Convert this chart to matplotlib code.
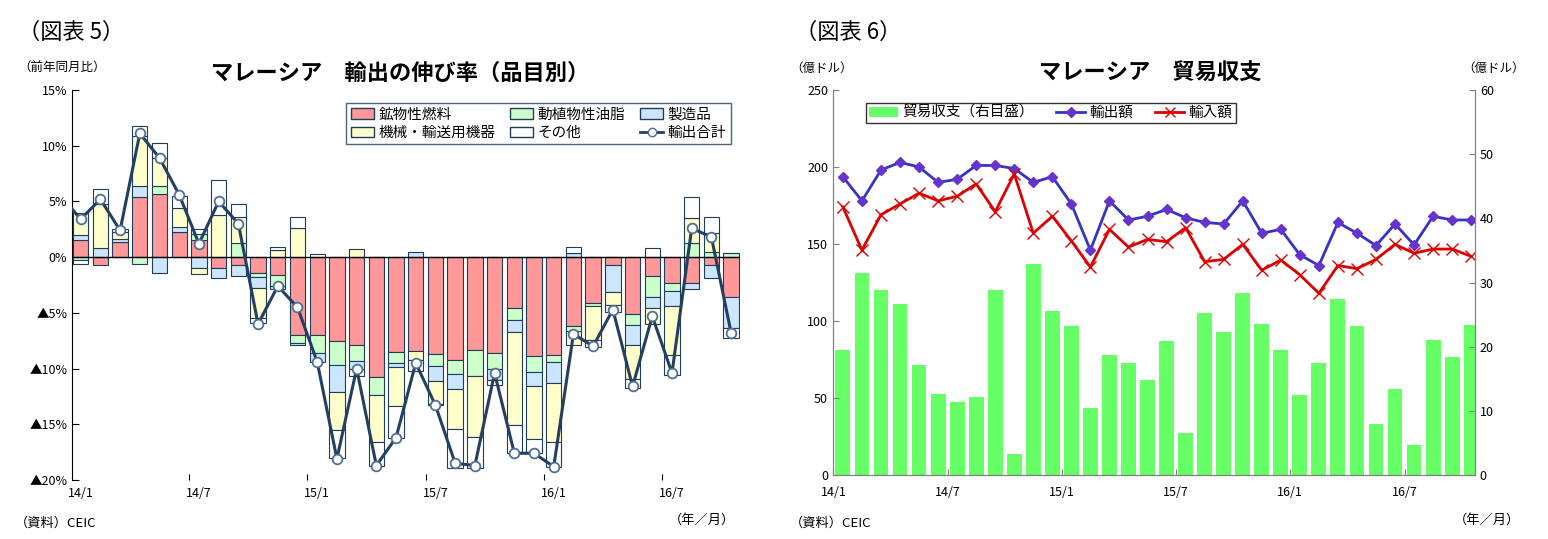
import numpy as np
import matplotlib.pyplot as plt
from matplotlib.patches import Patch
from matplotlib.lines import Line2D

plt.rcParams['font.family'] = 'Noto Sans CJK JP'

months = ["14/1", "14/7", "15/1", "15/7", "16/1", "16/7"]
n = 34

# 図表5: 品目別寄与度 (%pt)
fuel = [1.5, -0.7, 1.4, 5.4, 5.7, 2.3, 1.5, -1.0, -0.7, -1.4, -1.6, -7.0, -7.0, -7.5, -7.9, -10.8, -8.5,
        -8.4, -8.7, -9.2, -8.3, -8.6, -4.6, -8.9, -8.8, -6.2, -4.1, -0.7, -5.1, -1.7, -2.3, -2.3, -0.7, -3.6]
oil = [-0.3, 0.0, 0.0, -0.6, 0.7, 0.0, 0.6, 0.0, 1.3, -0.4, -1.0, -0.7, -1.6, -2.2, -1.4, -1.6, -1.0,
       0.0, -1.1, -1.3, -2.4, -1.4, -1.0, -1.4, -0.6, -0.4, -0.3, 0.0, -1.0, -1.9, -0.7, 1.3, 0.5, 0.4]
manuf = [0.5, 0.8, 0.2, 1.0, -1.4, 0.4, -1.0, -0.9, -1.0, -1.0, -0.3, -0.2, -0.8, -2.4, -0.7, 0.0, -0.4,
         0.5, -1.3, -1.3, 0.0, -1.0, -1.1, -1.3, -1.9, 0.4, 0.0, -2.4, -1.8, -1.0, -1.4, -0.6, -1.2, -2.8]
machine = [2.0, 4.0, 0.7, 4.5, 2.5, 1.7, -0.5, 3.8, 2.3, -2.7, 0.6, 2.6, 0.0, -3.4, 0.7, -4.2, -3.5,
           -0.8, -2.1, -3.6, -5.4, 0.0, -8.4, -4.7, -5.3, -1.3, -3.0, -1.2, -3.0, -1.4, -4.4, 2.2, 1.7, 0.0]
other = [-0.3, 1.3, 0.2, 0.9, 1.3, 1.1, 0.4, 3.1, 1.2, -0.4, 0.3, 1.0, 0.3, -2.5, -0.7, -2.1, -2.8,
         -1.0, -0.1, -3.5, -2.8, -0.5, -2.5, -1.3, -2.2, 0.5, -0.7, -0.6, -0.8, 0.8, -1.8, 1.9, 1.4, -0.85]
total = [3.4, 5.2, 2.4, 11.1, 8.9, 5.6, 1.2, 5.0, 3.0, -6.0, -2.6, -4.5, -9.4, -18.1, -10.0, -18.7, -16.2,
         -9.5, -13.3, -18.5, -18.7, -10.4, -17.6, -17.6, -18.8, -6.9, -8.0, -4.7, -11.6, -5.3, -10.4, 2.6, 1.8, -6.8]
total_prev = 5.5  # 13/12

# 図表6: 貿易 (億ドル)
balance = [19.5, 31.5, 28.8, 26.7, 17.2, 12.6, 11.3, 12.1, 28.9, 3.2, 32.9, 25.6, 23.2, 10.5, 18.7, 17.4, 14.8,
           20.9, 6.5, 25.2, 22.3, 28.4, 23.5, 19.5, 12.4, 17.5, 27.5, 23.2, 8.0, 13.4, 4.7, 21.0, 18.4, 23.4]
exports = [193.7, 178, 198, 203, 200, 190, 192, 201, 201, 199, 190, 193.7, 176, 146, 178, 165.6, 168,
           172.5, 167, 164, 163, 178, 157, 159.5, 143, 136, 164, 157, 149, 163, 149.4, 168, 165.6, 165.6]
imports = [174, 146, 169, 176, 183, 178, 181, 189, 171, 195.5, 157, 168, 152, 135, 159.5, 148, 153,
           151.5, 160.6, 138.5, 140, 149.8, 133, 139.6, 130, 118, 136, 134, 140, 149.8, 144, 146.7, 146.7, 142]

x = np.arange(n)
fig = plt.figure(figsize=(15.48, 5.39), dpi=100)

# ---------- 図表5 ----------
ax = fig.add_axes([72 / 1548, 1 - 480 / 539, 668 / 1548, 390 / 539])
comps = [(fuel, '#FF9999', '鉱物性燃料'), (oil, '#CCFFCC', '動植物性油脂'),
         (manuf, '#CCE6FF', '製造品'), (machine, '#FFFFCC', '機械・輸送用機器'),
         (other, '#FFFFFF', 'その他')]
pos = np.zeros(n)
neg = np.zeros(n)
for vals, col, lab in comps:
    v = np.array(vals)
    base = np.where(v >= 0, pos, neg)
    ax.bar(x, v, bottom=base, width=0.78, color=col, edgecolor='#1F3D5A', linewidth=0.8, zorder=2)
    pos += np.where(v >= 0, v, 0)
    neg += np.where(v < 0, v, 0)
ax.plot(np.r_[-1, x], np.r_[total_prev, total], color='#243F60', lw=2.2, marker='o', ms=7,
        mfc='white', mec='#4F6F95', mew=1.3, zorder=4)
ax.axhline(0, color='black', lw=1, zorder=3)
ax.set_xlim(-0.44, 33.45)
ax.set_ylim(-20, 15)
ax.set_yticks(np.arange(-20, 16, 5))
ax.set_yticklabels([f'▲{-t}%' if t < 0 else f'{t}%' for t in range(-20, 16, 5)], fontsize=9)
for s in ['top', 'right', 'bottom']:
    ax.spines[s].set_visible(False)
ax.tick_params(axis='y', direction='in', length=5)
ax.set_xticks(np.arange(5.5, 34, 6))
ax.set_xticklabels([])
ax.tick_params(axis='x', direction='in', length=4)
for i, m in enumerate(months):
    ax.text(i * 6, -20.6, m, ha='center', va='top', fontsize=9)
handles = [Patch(facecolor=c, edgecolor='#1F3D5A', label=l) for _, c, l in comps]
handles.append(Line2D([0], [0], color='#243F60', lw=2, marker='o', mfc='white', mec='#4F6F95', label='輸出合計'))
order = [handles[0], handles[3], handles[1], handles[4], handles[2], handles[5]]
ax.legend(handles=order, ncol=3, loc='upper right', bbox_to_anchor=(0.997, 0.985), fontsize=10.5,
          frameon=True, fancybox=False, edgecolor='#1F3D5A', handlelength=1.6, handletextpad=0.3,
          columnspacing=1.0, labelspacing=0.3, borderpad=0.3)

# ---------- 図表6 ----------
axr = fig.add_axes([833 / 1548, 1 - 475 / 539, 642 / 1548, 385 / 539])
axb = axr.twinx()
axb.bar(x, balance, width=0.78, color='#66FF66', zorder=1)
axb.set_ylim(0, 60)
axb.set_yticks(np.arange(0, 61, 10))
axr.set_zorder(axb.get_zorder() + 1)
axr.patch.set_visible(False)
axr.plot(x, exports, color='#3333CC', lw=2, marker='D', ms=5.5, mfc='#6633CC', mec='#6633CC')
axr.plot(x, imports, color='#DD0000', lw=2, marker='x', ms=8, mec='#DD0000')
axr.set_ylim(0, 250)
axr.set_yticks(np.arange(0, 251, 50))
axr.set_xlim(-0.52, 33.2)
axr.set_xticks(np.arange(-0.5, 34, 6))
axr.set_xticklabels(months, fontsize=9)
for a in (axr, axb):
    a.spines['top'].set_visible(False)
    for s in ['left', 'right', 'bottom']:
        a.spines[s].set_color('#808080')
    a.tick_params(direction='in', length=4, labelsize=9, color='#808080')
axr.tick_params(axis='x', pad=8)
lh = [Patch(facecolor='#66FF66', label='貿易収支（右目盛）'),
      Line2D([0], [0], color='#3333CC', lw=2, marker='D', ms=5, mfc='#6633CC', mec='#6633CC', label='輸出額'),
      Line2D([0], [0], color='#DD0000', lw=2, marker='x', ms=7, label='輸入額')]
axr.legend(handles=lh, ncol=3, loc='upper left', bbox_to_anchor=(0.04, 0.985), fontsize=10.5,
           frameon=True, fancybox=False, edgecolor='black', handlelength=2.0, handletextpad=0.3,
           columnspacing=1.5, borderpad=0.2)

# ---------- texts ----------
def t(px, py, s, **kw):
    fig.text(px / 1548, 1 - py / 539, s, **kw)

t(18, 32, '（図表 5）', fontsize=16, va='center')
t(400, 73, 'マレーシア　輸出の伸び率（品目別）', fontsize=16, fontweight='bold', ha='center', va='center')
t(18, 68, '（前年同月比）', fontsize=9, va='center')
t(15, 523, '（資料）CEIC', fontsize=9.5, va='center')
t(735, 520, '（年／月）', fontsize=9.5, ha='right', va='center')
t(795, 32, '（図表 6）', fontsize=16, va='center')
t(1150, 73, 'マレーシア　貿易収支', fontsize=16, fontweight='bold', ha='center', va='center')
t(790, 68, '（億ドル）', fontsize=9, va='center')
t(1525, 68, '（億ドル）', fontsize=9, ha='right', va='center')
t(790, 523, '（資料）CEIC', fontsize=9.5, va='center')
t(1520, 520, '（年／月）', fontsize=9.5, ha='right', va='center')

fig.savefig('out.png', dpi=100)
